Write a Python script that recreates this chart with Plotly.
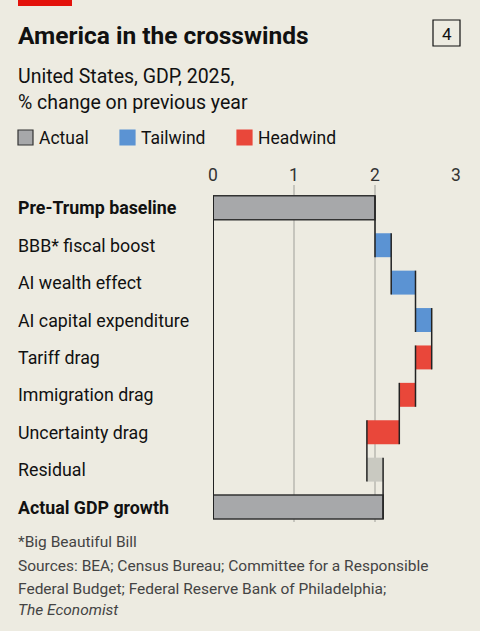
import plotly.graph_objects as go

categories = ["Pre-Trump baseline", "BBB* fiscal boost", "AI wealth effect", "AI capital expenditure",
              "Tariff drag", "Immigration drag", "Uncertainty drag", "Residual", "Actual GDP growth"]
changes = [2.0, 0.2, 0.3, 0.2, -0.2, -0.2, -0.4, 0.2, 2.1]
kinds = ["total", "tail", "tail", "tail", "head", "head", "head", "resid", "total"]
x_ticks = [0, 1, 2, 3]

colors = {"total": "#a7a8aa", "tail": "#5b93d3", "head": "#e9473a", "resid": "#c9c9c1"}
BG = "#edebe1"
W = 0.64

bases, widths, cum = [], [], 0.0
cums = []
for c, k in zip(changes, kinds):
    if k == "total":
        bases.append(0); widths.append(c); cum = c
    else:
        bases.append(min(cum, cum + c)); widths.append(abs(c)); cum = cum + c
    cums.append(cum)

rows = list(range(len(categories)))
fig = go.Figure()
fig.add_trace(go.Bar(
    y=rows, x=widths, base=bases, orientation="h", width=W,
    marker=dict(color=[colors[k] for k in kinds],
                line=dict(color=["#333" if k == "total" else "rgba(0,0,0,0)" for k in kinds], width=1.5)),
    hoverinfo="skip"))
cx, cy = [], []
for i in range(len(categories) - 1):
    cx += [cums[i], cums[i], None]
    cy += [i - W / 2, i + 1 + W / 2, None]
fig.add_trace(go.Scatter(x=cx, y=cy, mode="lines", line=dict(color="#222", width=1.5), hoverinfo="skip"))

ann = []
for i, c in enumerate(categories):
    bold = i in (0, len(categories) - 1)
    ann.append(dict(x=-197 / 243, xref="paper", y=i, yref="y", xanchor="left", yanchor="middle",
                    text=f"<b>{c}</b>" if bold else c, showarrow=False,
                    font=dict(size=17.8, color="#111")))

y_top = 1 - ((0 - W / 2) - (-0.61)) / (8.4 + 0.61)
y_bot = 1 - ((8 + W / 2) - (-0.61)) / (8.4 + 0.61)

fig.update_layout(
    width=480, height=631, paper_bgcolor=BG, plot_bgcolor=BG, showlegend=False,
    margin=dict(l=213, r=24, t=185, b=109),
    font=dict(family="Roboto", color="#111"),
    xaxis=dict(range=[0, 3], side="top", tickvals=x_ticks, ticks="", tickfont=dict(size=17.5, color="#333"),
               showgrid=True, gridcolor="#c6c5bd", gridwidth=1.5, zeroline=False, fixedrange=True),
    yaxis=dict(range=[8.4, -0.61], showticklabels=False, showgrid=False, zeroline=False, fixedrange=True),
    annotations=ann,
    shapes=[
        dict(type="rect", xref="paper", yref="paper", x0=-195 / 243, x1=-141 / 243, y0=1 + 185 / 337, y1=1 + 179 / 337,
             fillcolor="#e3120b", line=dict(width=0)),
        dict(type="line", xref="x", yref="paper", x0=0, x1=0, y0=y_bot, y1=y_top,
             line=dict(color="#222", width=2)),
        dict(type="rect", xref="paper", yref="paper", x0=(433 - 213) / 243, x1=(460 - 213) / 243,
             y0=1 + (185 - 46) / 337, y1=1 + (185 - 20) / 337, line=dict(color="#111", width=1.2)),
    ],
)

def ptext(x, y, text, size, color="#111", xanchor="left"):
    fig.add_annotation(x=(x - 213) / 243, y=1 + (185 - y) / 337, xref="paper", yref="paper", text=text,
                       showarrow=False, xanchor=xanchor, yanchor="middle", font=dict(size=size, color=color))

ptext(16, 36, "<b>America in the crosswinds</b>", 24.5)
ptext(446.5, 34, "4", 17, xanchor="center")
ptext(16, 76, "United States, GDP, 2025,", 19.5)
ptext(16, 102, "% change on previous year", 19.5)
leg = [("Actual", colors["total"], 18), ("Tailwind", colors["tail"], 120), ("Headwind", colors["head"], 237)]
for name, col, x0 in leg:
    fig.add_shape(type="rect", xref="paper", yref="paper", x0=(x0 - 213) / 243, x1=(x0 + 15 - 213) / 243,
                  y0=1 + (185 - 145) / 337, y1=1 + (185 - 130) / 337, fillcolor=col,
                  line=dict(color="#333" if name == "Actual" else col, width=1.2))
    ptext(x0 + 19, 138, name, 17.5)
ptext(16, 542, "*Big Beautiful Bill", 15.5, "#444")
ptext(16, 566, "Sources: BEA; Census Bureau; Committee for a Responsible", 15.5, "#444")
ptext(16, 589, "Federal Budget; Federal Reserve Bank of Philadelphia;", 15.5, "#444")
ptext(16, 610, "<i>The Economist</i>", 15.5, "#444")

fig.write_html("out.html", config={"displayModeBar": False},
               post_script="document.body.style.margin='0';document.body.style.background='" + BG + "';")
